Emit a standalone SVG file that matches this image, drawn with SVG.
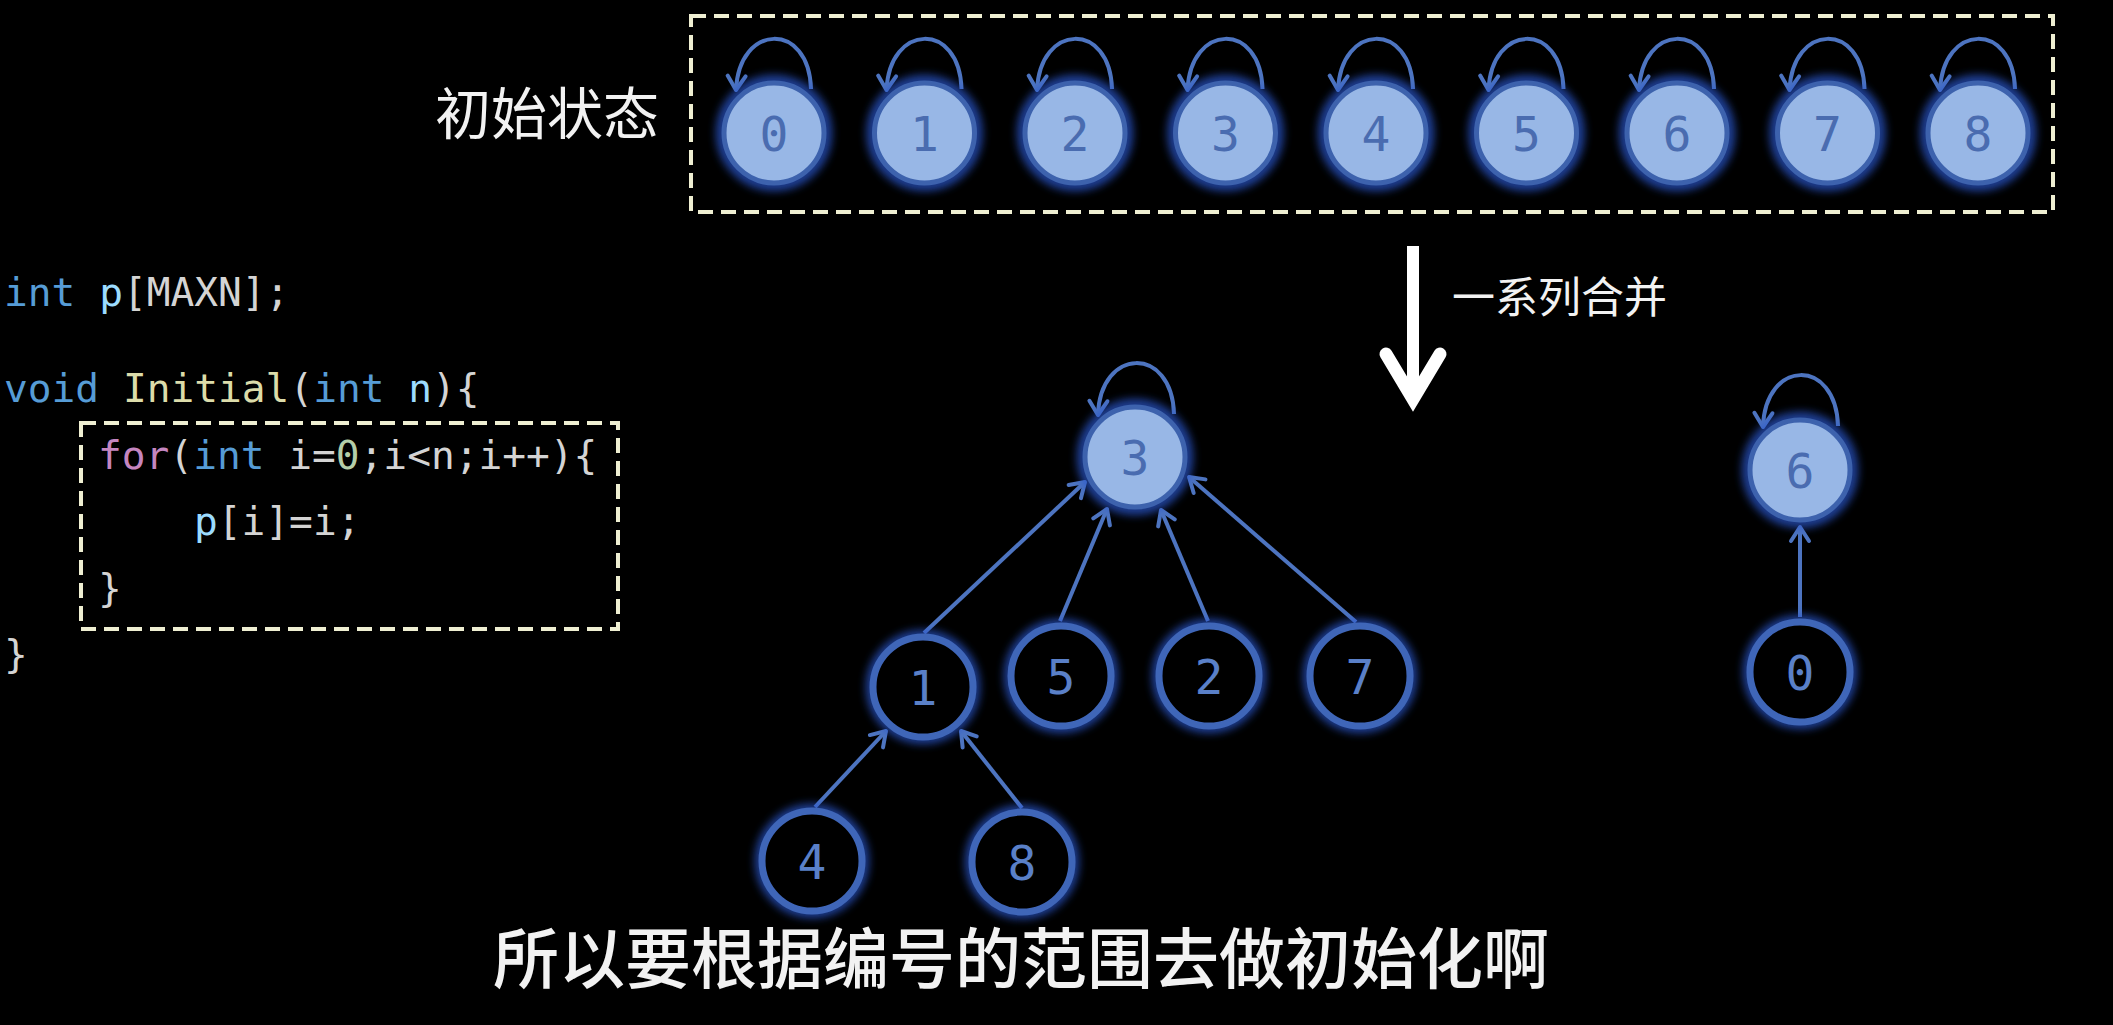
<svg xmlns="http://www.w3.org/2000/svg" width="2113" height="1025" viewBox="0 0 2113 1025">
<defs>
<style>
.bg{fill:#000}
.dash{fill:none;stroke:#efefd2;stroke-width:4;stroke-dasharray:15 8}
.halo{fill:none;stroke:#2c58d0;stroke-width:12;opacity:0.75;filter:url(#blur)}
.fnode{fill:#98b7e6;stroke:#3d62ad;stroke-width:5}
.onode{fill:#000;stroke:#3f66b8;stroke-width:7}
.ftxt{font-family:"DejaVu Sans Mono",monospace;font-size:48px;fill:#4a6cb0;text-anchor:middle}
.otxt{font-family:"DejaVu Sans Mono",monospace;font-size:48px;fill:#5a80c8;text-anchor:middle}
.edge{fill:none;stroke:#4d74c0;stroke-width:4;marker-end:url(#ah)}
.code{font-family:"DejaVu Sans Mono",monospace;font-size:39.5px;fill:#d4d4d4}
.kw{fill:#569cd6}.var{fill:#9cdcfe}.fn{fill:#dcdcaa}.ctl{fill:#c586c0}.num{fill:#b5cea8}
.cjk{font-family:"Noto Sans CJK SC","Noto Sans",sans-serif;fill:#f2f2f2}
</style>
<filter id="blur" x="-40%" y="-40%" width="180%" height="180%"><feGaussianBlur stdDeviation="4"/></filter>
<marker id="ah" markerUnits="userSpaceOnUse" viewBox="-20 -15 30 30" markerWidth="30" markerHeight="30" refX="0" refY="0" orient="auto">
<path d="M-14,-9 L0,0 L-14,9" fill="none" stroke="#4d74c0" stroke-width="4" stroke-linecap="round" stroke-linejoin="round"/>
</marker>
</defs>
<rect class="bg" x="0" y="0" width="2113" height="1025"/>

<g id="title">
<text class="cjk" x="435" y="134" font-size="56">初始状态</text>
</g>
<g id="initial-box"><rect class="dash" x="691" y="16" width="1362" height="196"/></g>

<g id="code">
<text class="code" x="4" y="306" xml:space="preserve"><tspan class="kw">int</tspan> <tspan class="var">p</tspan>[MAXN];</text>
<text class="code" x="4" y="402" xml:space="preserve"><tspan class="kw">void</tspan> <tspan class="fn">Initial</tspan>(<tspan class="kw">int</tspan> <tspan class="var">n</tspan>){</text>
<text class="code" x="98" y="469" xml:space="preserve"><tspan class="ctl">for</tspan>(<tspan class="kw">int</tspan> i=<tspan class="num">0</tspan>;i&lt;n;i++){</text>
<text class="code" x="194" y="535" xml:space="preserve"><tspan class="var">p</tspan>[i]=i;</text>
<text class="code" x="98" y="602">}</text>
<text class="code" x="4" y="668">}</text>
</g>
<g id="code-box"><rect class="dash" x="81" y="423" width="537" height="206"/></g>

<g id="merge-arrow">
<line x1="1413" y1="246" x2="1413" y2="392" stroke="#fff" stroke-width="12"/>
<polyline points="1386,354 1413,399 1440,354" fill="none" stroke="#fff" stroke-width="13" stroke-linecap="round" stroke-linejoin="miter"/>
<text class="cjk" x="1452" y="313" font-size="43">一系列合并</text>
</g>

<g id="connectors">
<path class="edge" d="M811,89 C809,21 739,23 736,90"/>
<path class="edge" d="M961.5,89 C959.5,21 889.5,23 886.5,90"/>
<path class="edge" d="M1112,89 C1110,21 1040,23 1037,90"/>
<path class="edge" d="M1262.5,89 C1260.5,21 1190.5,23 1187.5,90"/>
<path class="edge" d="M1413,89 C1411,21 1341,23 1338,90"/>
<path class="edge" d="M1563.5,89 C1561.5,21 1491.5,23 1488.5,90"/>
<path class="edge" d="M1714,89 C1712,21 1642,23 1639,90"/>
<path class="edge" d="M1864.5,89 C1862.5,21 1792.5,23 1789.5,90"/>
<path class="edge" d="M2015,89 C2013,21 1943,23 1940,90"/>
<path class="edge" d="M1174,414 C1172,345 1100,347 1098,415"/>
<path class="edge" d="M1838,426 C1836,357 1765,359 1763,427"/>
<line class="edge" x1="924" y1="633" x2="1085" y2="482"/>
<line class="edge" x1="1060" y1="621" x2="1107" y2="509"/>
<line class="edge" x1="1208" y1="621" x2="1161" y2="510"/>
<line class="edge" x1="1356" y1="622" x2="1189" y2="477"/>
<line class="edge" x1="815" y1="807" x2="886" y2="731"/>
<line class="edge" x1="1022" y1="808" x2="961" y2="731"/>
<line class="edge" x1="1800" y1="617" x2="1800" y2="527"/>
</g>

<g id="n0-top"><circle class="halo" cx="774" cy="133" r="52"/><circle class="fnode" cx="774" cy="133" r="50"/><text class="ftxt" x="774" y="151">0</text></g>
<g id="n1-top"><circle class="halo" cx="924.5" cy="133" r="52"/><circle class="fnode" cx="924.5" cy="133" r="50"/><text class="ftxt" x="924.5" y="151">1</text></g>
<g id="n2-top"><circle class="halo" cx="1075" cy="133" r="52"/><circle class="fnode" cx="1075" cy="133" r="50"/><text class="ftxt" x="1075" y="151">2</text></g>
<g id="n3-top"><circle class="halo" cx="1225.5" cy="133" r="52"/><circle class="fnode" cx="1225.5" cy="133" r="50"/><text class="ftxt" x="1225.5" y="151">3</text></g>
<g id="n4-top"><circle class="halo" cx="1376" cy="133" r="52"/><circle class="fnode" cx="1376" cy="133" r="50"/><text class="ftxt" x="1376" y="151">4</text></g>
<g id="n5-top"><circle class="halo" cx="1526.5" cy="133" r="52"/><circle class="fnode" cx="1526.5" cy="133" r="50"/><text class="ftxt" x="1526.5" y="151">5</text></g>
<g id="n6-top"><circle class="halo" cx="1677" cy="133" r="52"/><circle class="fnode" cx="1677" cy="133" r="50"/><text class="ftxt" x="1677" y="151">6</text></g>
<g id="n7-top"><circle class="halo" cx="1827.5" cy="133" r="52"/><circle class="fnode" cx="1827.5" cy="133" r="50"/><text class="ftxt" x="1827.5" y="151">7</text></g>
<g id="n8-top"><circle class="halo" cx="1978" cy="133" r="52"/><circle class="fnode" cx="1978" cy="133" r="50"/><text class="ftxt" x="1978" y="151">8</text></g>

<g id="t3"><circle class="halo" cx="1135" cy="457" r="52"/><circle class="fnode" cx="1135" cy="457" r="50"/><text class="ftxt" x="1135" y="475">3</text></g>
<g id="t1"><circle class="halo" cx="923" cy="687" r="51"/><circle class="onode" cx="923" cy="687" r="50"/><text class="otxt" x="923" y="705">1</text></g>
<g id="t5"><circle class="halo" cx="1061" cy="676" r="51"/><circle class="onode" cx="1061" cy="676" r="50"/><text class="otxt" x="1061" y="694">5</text></g>
<g id="t2"><circle class="halo" cx="1209" cy="676" r="51"/><circle class="onode" cx="1209" cy="676" r="50"/><text class="otxt" x="1209" y="694">2</text></g>
<g id="t7"><circle class="halo" cx="1360" cy="676" r="51"/><circle class="onode" cx="1360" cy="676" r="50"/><text class="otxt" x="1360" y="694">7</text></g>
<g id="t4"><circle class="halo" cx="812" cy="861" r="51"/><circle class="onode" cx="812" cy="861" r="50"/><text class="otxt" x="812" y="879">4</text></g>
<g id="t8"><circle class="halo" cx="1022" cy="862" r="51"/><circle class="onode" cx="1022" cy="862" r="50"/><text class="otxt" x="1022" y="880">8</text></g>
<g id="t6"><circle class="halo" cx="1800" cy="470" r="52"/><circle class="fnode" cx="1800" cy="470" r="50"/><text class="ftxt" x="1800" y="488">6</text></g>
<g id="t0"><circle class="halo" cx="1800" cy="672" r="51"/><circle class="onode" cx="1800" cy="672" r="50"/><text class="otxt" x="1800" y="690">0</text></g>

<g id="subtitle">
<text class="cjk" x="1021" y="983" font-size="66" font-weight="500" text-anchor="middle" fill="#ffffff" stroke="#000" stroke-width="4" paint-order="stroke">所以要根据编号的范围去做初始化啊</text>
</g>
</svg>
